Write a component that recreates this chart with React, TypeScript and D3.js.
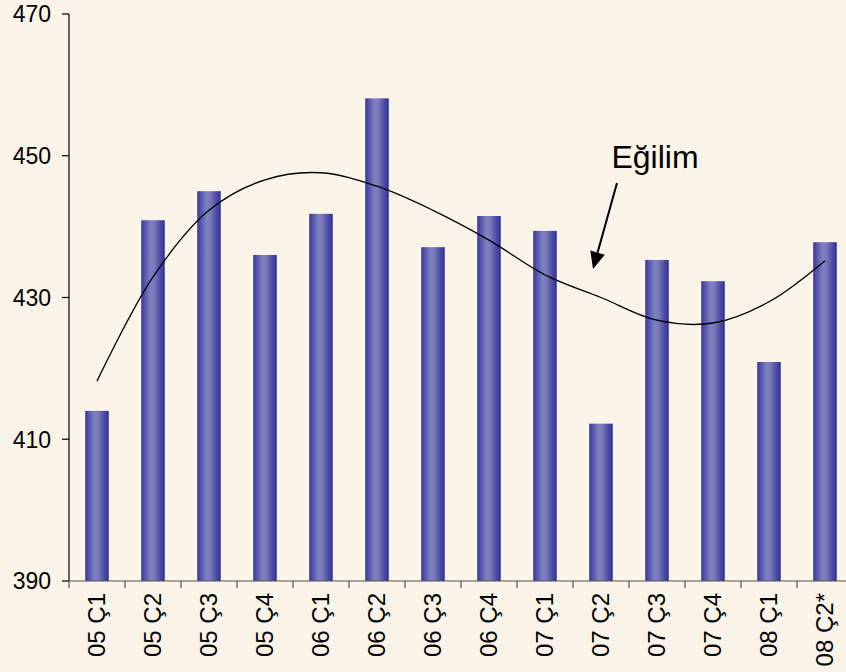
import React from "react";
import * as d3 from "d3";

const categories = ["05 Ç1", "05 Ç2", "05 Ç3", "05 Ç4", "06 Ç1", "06 Ç2", "06 Ç3", "06 Ç4", "07 Ç1", "07 Ç2", "07 Ç3", "07 Ç4", "08 Ç1", "08 Ç2*"];
const values = [414.0, 440.9, 445.0, 436.0, 441.8, 458.1, 437.1, 441.5, 439.4, 412.2, 435.3, 432.3, 420.9, 437.8];
const trend = [418.2, 432.9, 442.3, 446.6, 447.6, 445.7, 442.3, 438.1, 433.2, 430.0, 426.8, 426.4, 429.4, 435.2];
const yTicks = [390, 410, 430, 450, 470];
const annotation = "Eğilim";

const W = 846;
const H = 672;
const left = 69;
const top = 14;
const bottom = 581;
const band = 56;

export default function App() {
  const x = d3.scaleBand<string>().domain(categories).range([left, left + band * categories.length]).padding(0);
  const y = d3.scaleLinear().domain([390, 470]).range([bottom, top]);
  const bw = x.bandwidth() * 0.42;
  const cx = (c: string) => (x(c) as number) + x.bandwidth() / 2;
  const line = d3
    .line<number>()
    .x((_, i) => cx(categories[i]))
    .y((d) => y(d))
    .curve(d3.curveCatmullRom.alpha(0.5));
  const font = "Arial, 'Liberation Sans', sans-serif";

  // annotation arrow
  const a0 = [617, 183];
  const tip = [593, 269];
  const dx = tip[0] - a0[0];
  const dy = tip[1] - a0[1];
  const len = Math.hypot(dx, dy);
  const ux = dx / len;
  const uy = dy / len;
  const headL = 17;
  const headW = 7.5;
  const bx = tip[0] - ux * headL;
  const by = tip[1] - uy * headL;
  const head = `M${tip[0]},${tip[1]} L${bx - uy * headW},${by + ux * headW} L${bx + uy * headW},${by - ux * headW} Z`;

  return (
    <svg width={W} height={H} style={{ position: "absolute", left: 0, top: 0 }} fontFamily={font}>
      <defs>
        <linearGradient id="barGrad" x1="0" x2="1" y1="0" y2="0">
          <stop offset="0%" stopColor="#35359a" />
          <stop offset="15%" stopColor="#5555aa" />
          <stop offset="40%" stopColor="#8080c0" />
          <stop offset="55%" stopColor="#7a7abb" />
          <stop offset="85%" stopColor="#4646a2" />
          <stop offset="100%" stopColor="#303096" />
        </linearGradient>
      </defs>
      <rect x={0} y={0} width={W} height={H} fill="#f9f3e8" />
      {categories.map((c, i) => (
        <rect key={c} x={cx(c) - bw / 2} y={y(values[i])} width={bw} height={bottom - y(values[i])} fill="url(#barGrad)" />
      ))}
      <path d={line(trend) || ""} fill="none" stroke="#000" strokeWidth={1.3} />
      {/* y axis */}
      <line x1={left} x2={left} y1={top} y2={bottom} stroke="#000" strokeWidth={1.2} />
      {yTicks.map((t) => (
        <g key={t}>
          <line x1={left - 7} x2={left} y1={y(t)} y2={y(t)} stroke="#000" strokeWidth={1.2} />
          <text x={51} y={y(t)} dy="0.36em" textAnchor="end" fontSize={23} fill="#000">
            {t}
          </text>
        </g>
      ))}
      {/* x axis */}
      <line x1={left} x2={W} y1={bottom} y2={bottom} stroke="#555" strokeWidth={1.2} />
      {categories.map((c) => (
        <line key={"t" + c} x1={x(c) as number} x2={x(c) as number} y1={bottom} y2={bottom + 7} stroke="#555" strokeWidth={1.2} />
      ))}
      {categories.map((c) => (
        <text
          key={"l" + c}
          transform={`translate(${cx(c) + 8},${593}) rotate(-90)`}
          textAnchor="end"
          fontSize={24}
          fill="#000"
        >
          {c}
        </text>
      ))}
      <text x={655} y={168} textAnchor="middle" fontSize={32} fill="#000">
        {annotation}
      </text>
      <line x1={a0[0]} y1={a0[1]} x2={bx} y2={by} stroke="#000" strokeWidth={2} />
      <path d={head} fill="#000" />
    </svg>
  );
}
